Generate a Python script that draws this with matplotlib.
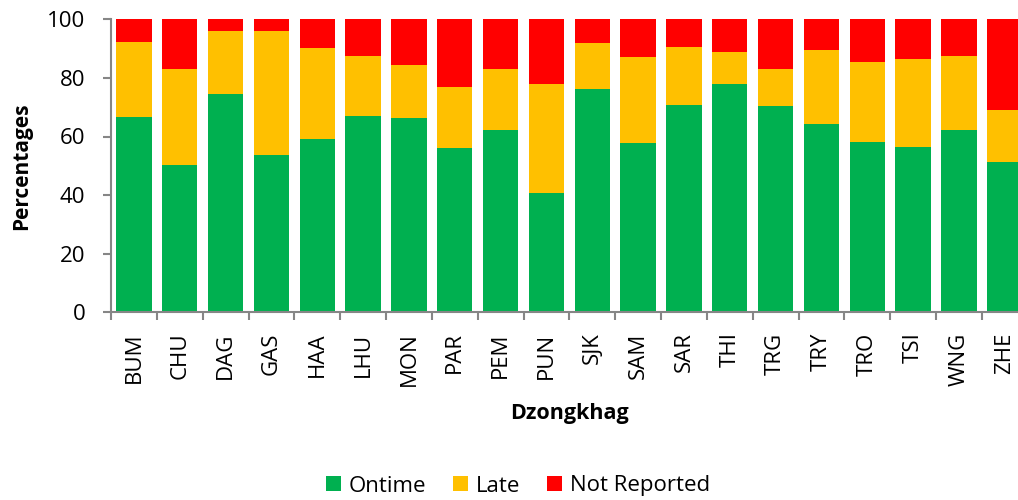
import matplotlib
matplotlib.use("Agg")
import matplotlib.pyplot as plt
import numpy as np
from matplotlib.patches import Patch

categories = ["BUM", "CHU", "DAG", "GAS", "HAA", "LHU", "MON", "PAR", "PEM", "PUN",
              "SJK", "SAM", "SAR", "THI", "TRG", "TRY", "TRO", "TSI", "WNG", "ZHE"]
ontime = [66.6, 50.4, 74.6, 53.7, 59.2, 67.0, 66.3, 56.2, 62.3, 40.8,
          76.3, 57.8, 70.9, 78.0, 70.3, 64.3, 58.2, 56.3, 62.3, 51.4]
ontime_plus_late = [92.3, 82.9, 96.1, 96.1, 90.1, 87.6, 84.4, 76.9, 83.0, 77.8,
                    91.8, 87.1, 90.7, 88.7, 83.0, 89.5, 85.3, 86.3, 87.5, 69.2]
late = [round(t - o, 1) for t, o in zip(ontime_plus_late, ontime)]
not_reported = [round(100 - t, 1) for t in ontime_plus_late]

series_names = ["Ontime", "Late", "Not Reported"]
colors = ["#00B050", "#FFC000", "#FF0000"]

plt.rcParams['font.family'] = ['Open Sans', 'DejaVu Sans']

W, H = 1018, 500
fig = plt.figure(figsize=(W / 100, H / 100), dpi=100)
left, right, top, bottom = 111, 1027.7, 19.3, 312.3
ax = fig.add_axes([left / W, 1 - bottom / H, (right - left) / W, (bottom - top) / H])

x = np.arange(len(categories))
bw = 0.77
o = np.array(ontime)
l = np.array(late)
n = np.array(not_reported)
ax.bar(x, o, bw, color=colors[0], edgecolor='none', zorder=2)
ax.bar(x, l, bw, bottom=o, color=colors[1], edgecolor='none', zorder=2)
ax.bar(x, n, bw, bottom=o + l, color=colors[2], edgecolor='none', zorder=2)

ax.set_xlim(-0.5, len(categories) - 0.5)
ax.set_ylim(0, 100)
ax.set_yticks(np.arange(0, 101, 20))

gray = "#868686"
for s in ['top', 'right']:
    ax.spines[s].set_visible(False)
for s in ['left', 'bottom']:
    ax.spines[s].set_color(gray)
    ax.spines[s].set_linewidth(1.5)

ax.set_xticks(x)
ax.set_xticklabels(categories, rotation=90, fontsize=16)
ax.set_xticks(np.arange(-0.5, len(categories), 1), minor=True)
ax.tick_params(axis='x', which='major', length=0, pad=14.5)
ax.tick_params(axis='x', which='minor', length=6, width=1.5, color=gray, direction='out')
ax.tick_params(axis='y', length=6, width=1.5, color=gray, direction='out', pad=12.5, labelsize=16)

fig.text(22 / W, 1 - 166 / H, "Percentages", rotation=90, ha='center', va='center',
         fontsize=15, fontweight='bold')
fig.text(569 / W, 1 - 413 / H, "Dzongkhag", ha='center', va='center',
         fontsize=15.5, fontweight='bold')

handles = [Patch(facecolor=c, edgecolor='none') for c in colors]
fig.legend(handles, series_names, loc='center', bbox_to_anchor=(518 / W, 1 - 486 / H),
           ncol=3, frameon=False, fontsize=16, handlelength=0.68, handleheight=0.68,
           handletextpad=0.35, columnspacing=1.2)

fig.savefig("out.png", dpi=100)
